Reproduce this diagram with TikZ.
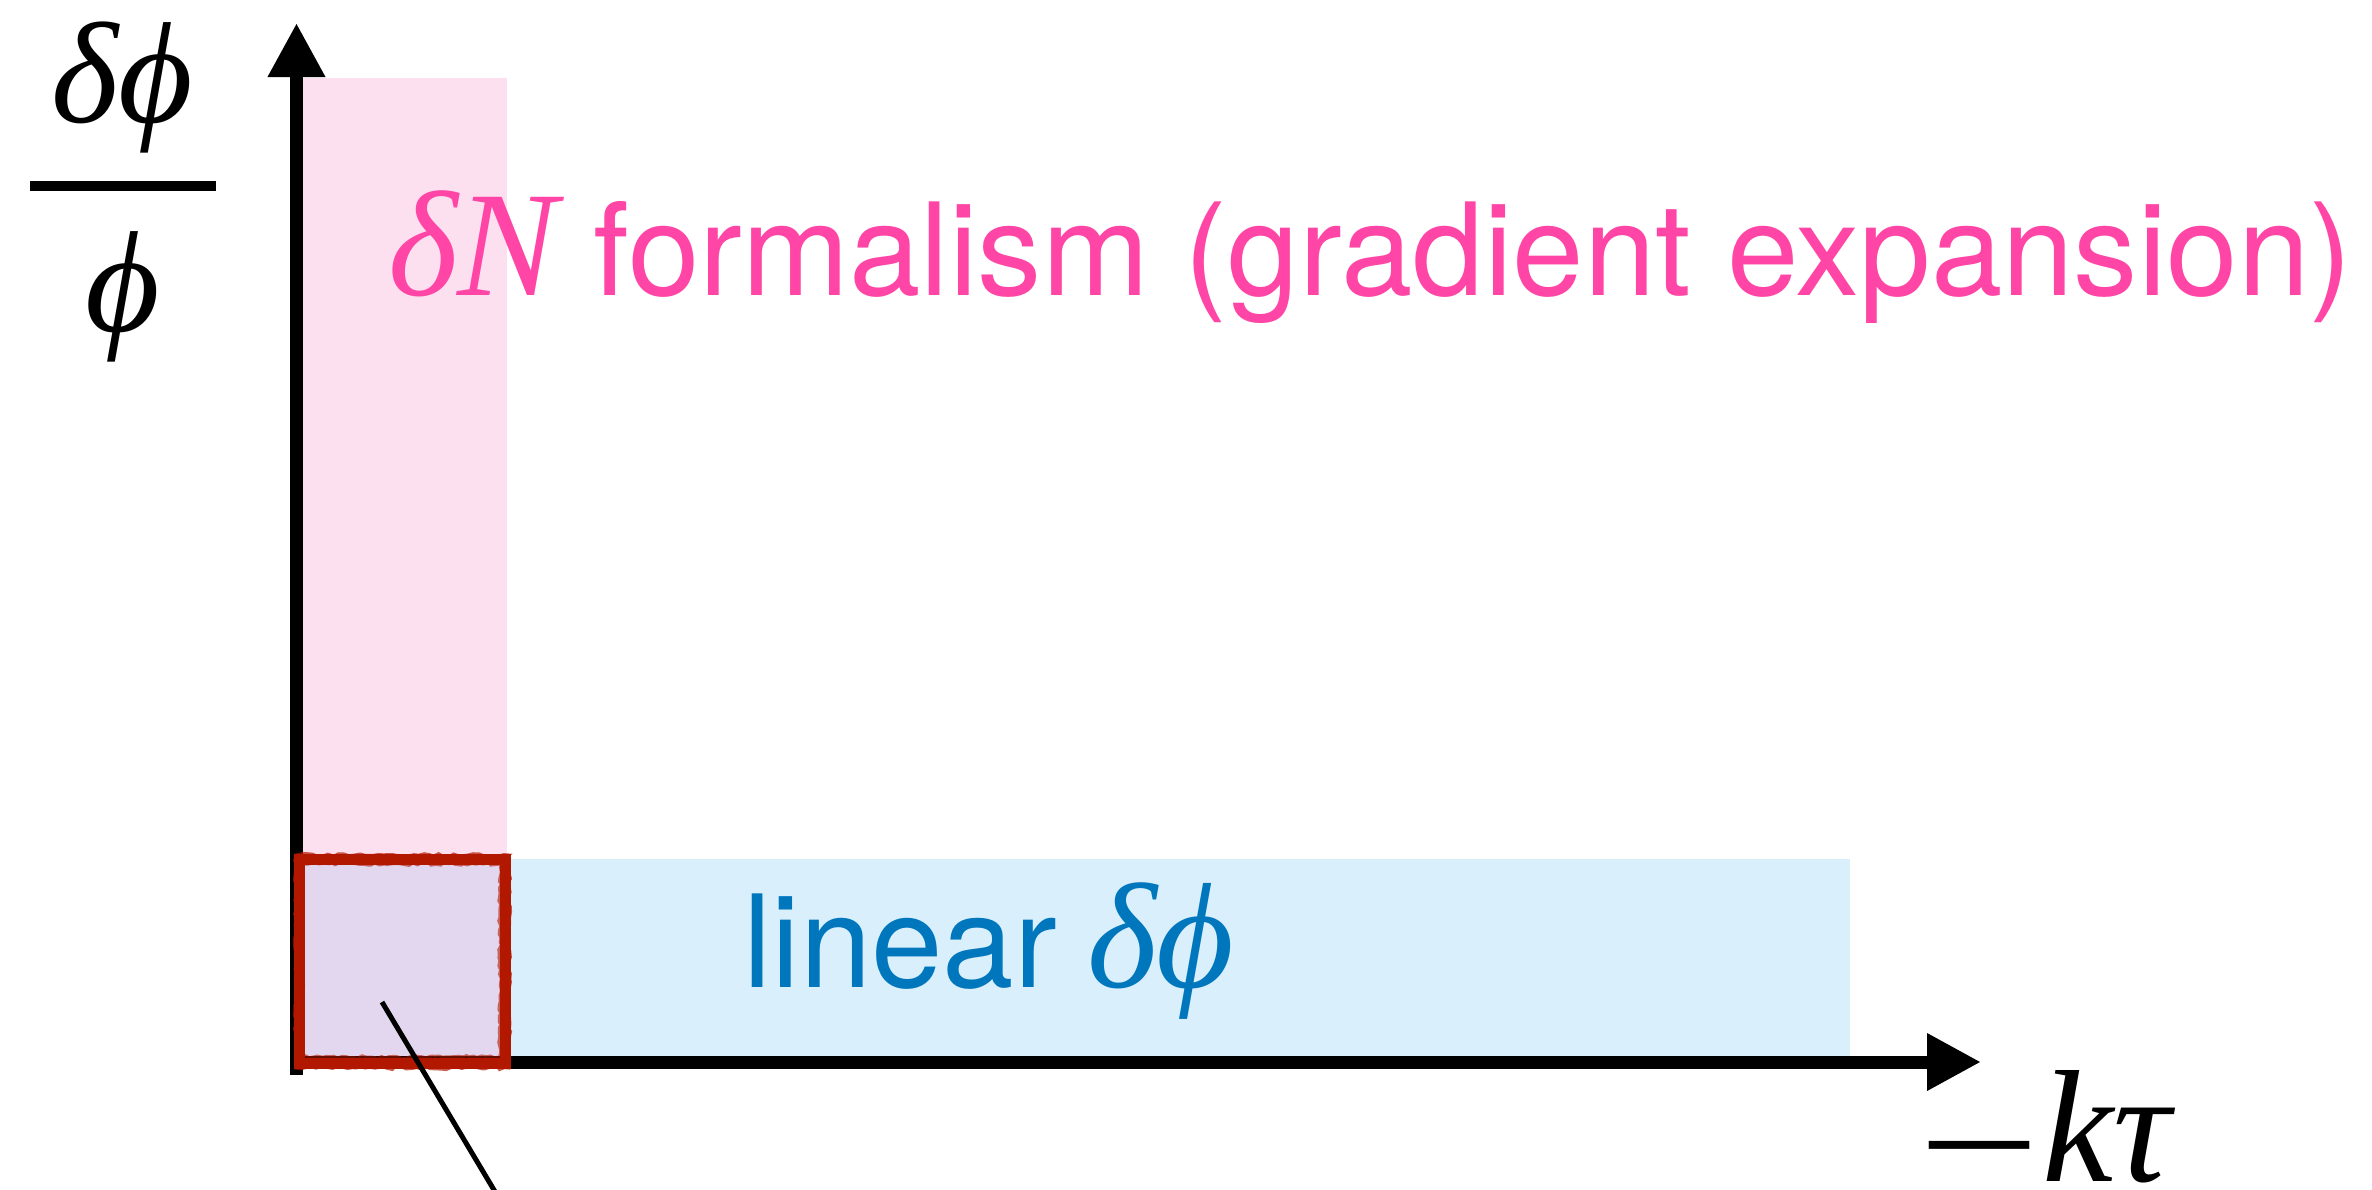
\RequirePackage{fix-cm}
\documentclass[tikz,border=0pt]{standalone}
\usepackage{graphicx}
\usepackage{fontspec}
\newfontfamily\helv{TeX Gyre Heros}
\newfontfamily\tms{Liberation Serif}
\usetikzlibrary{arrows.meta,decorations.pathmorphing}

\definecolor{bandpink}{RGB}{253,224,239}
\definecolor{bandblue}{RGB}{217,239,252}
\definecolor{bandboth}{RGB}{227,215,239}
\definecolor{textpink}{RGB}{255,69,165}
\definecolor{textblue}{RGB}{0,119,188}
\definecolor{boxred}{RGB}{178,24,0}

% symbols in a Times-like italic, labels in a Helvetica-like sans
\newcommand{\symsz}{\fontsize{150}{150}\selectfont\tms\itshape}
\newcommand{\labsz}{\fontsize{128.5}{130}\selectfont\helv}
% straight-stroke phi, taken from math italic when the font lacks it
\newcommand{\sphi}{\iffontchar\font"03D5 \char"03D5\else$\phi$\fi}

\begin{document}
\begin{tikzpicture}[x=1pt,y=1pt,
  axisline/.style={line width=13pt,-{Triangle[length=54pt,width=54pt]}},
  lbl/.style={inner sep=0pt,outer sep=0pt,anchor=base west},
  mlbl/.style={inner sep=0pt,outer sep=0pt,anchor=base},
  fracbar/.style={line width=10pt},
  leader/.style={line width=5pt},
  redbox/.style={draw=boxred,line width=11pt,line join=miter}]

  % page frame
  \useasboundingbox (0,0) rectangle (2372,-1189);
  \fill[white] (0,0) rectangle (2372,-1189);

  % regions of validity
  \fill[bandpink] (303,-78) rectangle (507,-1063);
  \fill[bandblue] (303,-859) rectangle (1850,-1063);
  \fill[bandboth] (303,-859) rectangle (507,-1063);

  % axes
  \coordinate (origin) at (296.5,-1062);
  \coordinate (ybottom) at (296.5,-1075);
  \coordinate (ytop) at (296.5,-23);
  \coordinate (xleft) at (290,-1062);
  \coordinate (xright) at (1981,-1062);
  \draw[axisline] (ybottom) -- (ytop);
  \draw[axisline] (xleft) -- (xright);

  % overlap region outlined by a brush-like red frame
  \draw[redbox] (299,-859) rectangle (505,-1063);
  \draw[draw=boxred,line width=3pt,opacity=0.7,
        decorate,decoration={random steps,segment length=5pt,amplitude=1.6pt}]
        (296,-855) rectangle (509,-1068);
  \draw[draw=boxred,line width=3pt,opacity=0.6,
        decorate,decoration={random steps,segment length=4pt,amplitude=1.4pt}]
        (302,-864) rectangle (500,-1057);

  % leader line out of the overlap region
  \coordinate (ptrA) at (382,-1002);
  \coordinate (ptrB) at (497,-1195);
  \draw[leader] (ptrA) -- (ptrB);

  % vertical axis label: delta phi over phi
  \node[mlbl] (ynum) at (122.5,-122) {\fontsize{144}{144}\selectfont\tms\itshape δ\sphi};
  \coordinate (barL) at (30,-186);
  \coordinate (barR) at (216,-186);
  \draw[fracbar] (barL) -- (barR);
  \node[mlbl] (yden) at (122.5,-331) {\fontsize{144}{144}\selectfont\tms\itshape \sphi};

  % horizontal axis label
  \node[lbl] (xlab) at (1918,-1181)
    {\fontsize{160}{160}\selectfont\tms\raisebox{-17pt}{\scalebox{1.35}[1]{−}}\hspace{3pt}\itshape kτ};

  % region labels
  \node[lbl,text=textpink] (dnlab) at (388,-295)
    {{\symsz δN}\hspace{36pt}{\labsz formalism (gradient expansion)}};
  \node[lbl,text=textblue] (linlab) at (743,-987)
    {{\labsz linear}\hspace{30pt}{\symsz δ\sphi}};
\end{tikzpicture}
\end{document}
